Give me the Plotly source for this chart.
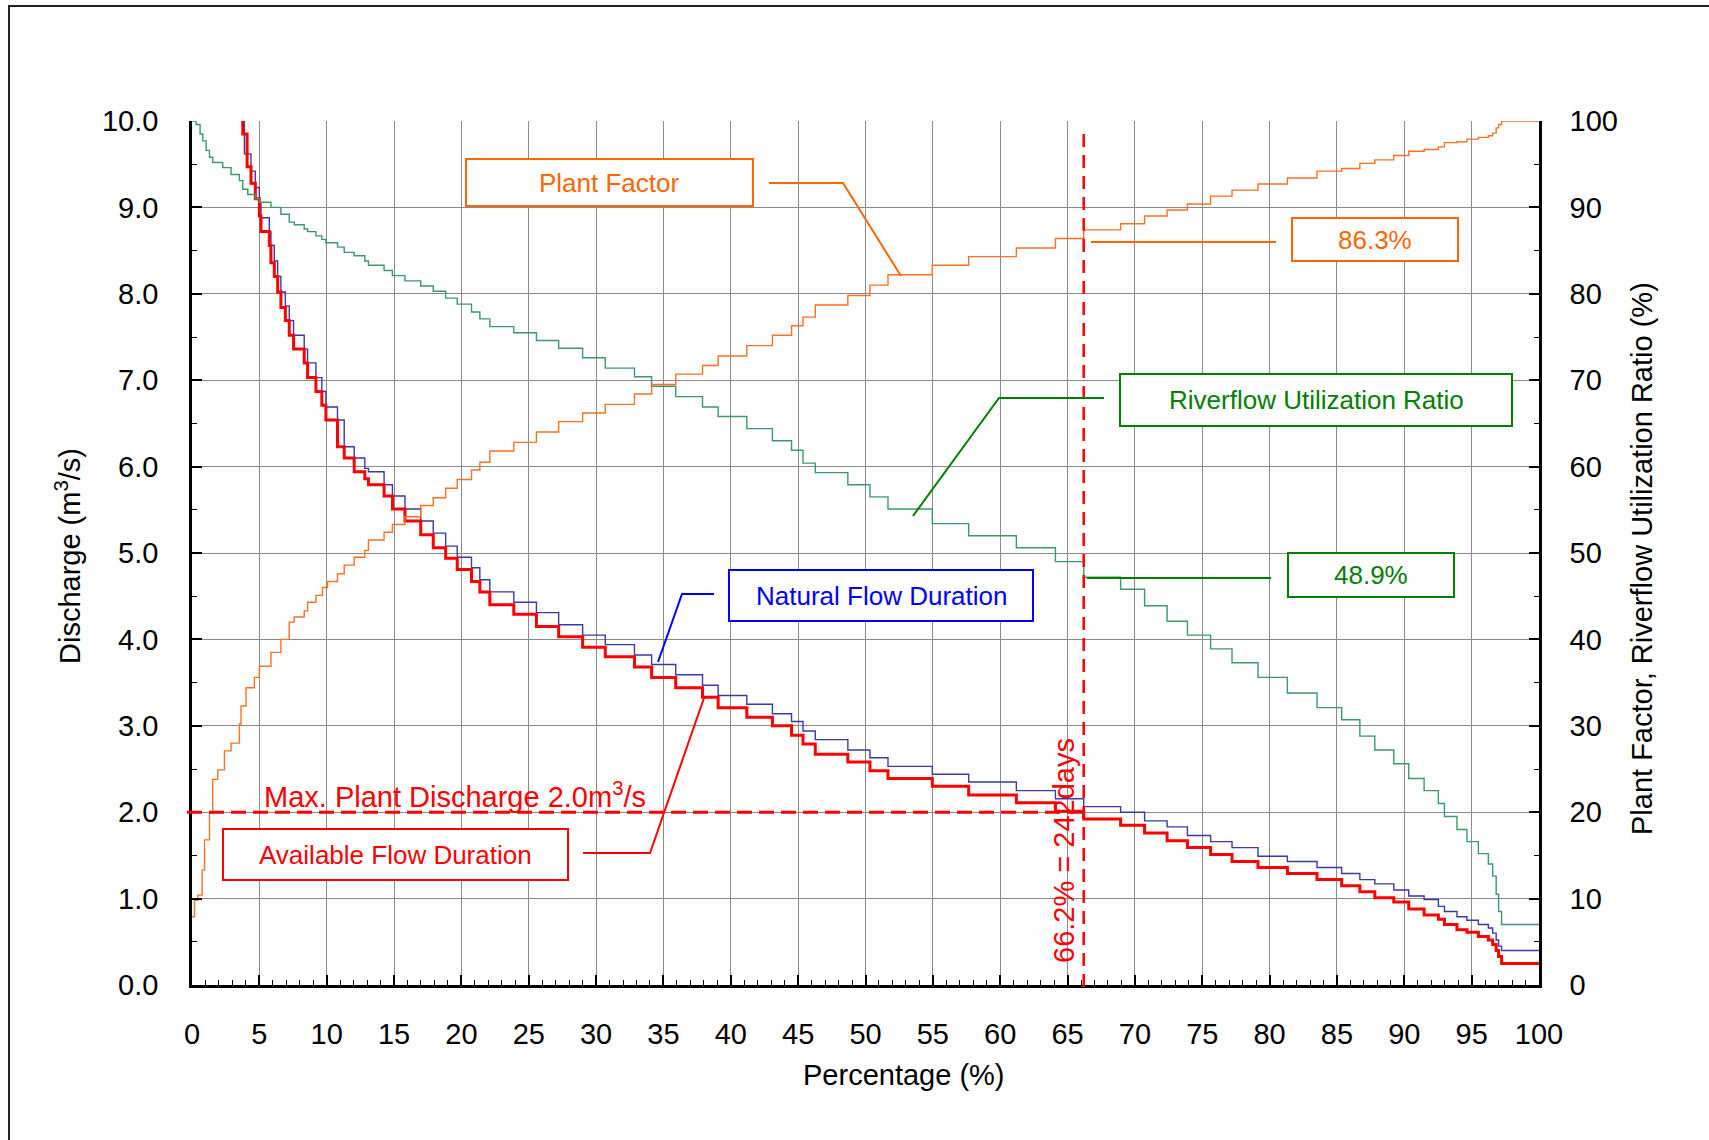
import plotly.graph_objects as go

# ---------------- data ----------------
# Available flow duration (red), discharge m3/s; step starts in % of time
avail_pct = [3.0, 3.77, 4.09, 4.38, 4.70,
             5.00, 5.12, 5.74, 5.86, 6.11,
             6.36, 6.60, 6.93, 7.22, 7.54,
             8.33, 8.58, 9.20, 9.64, 9.94,
             10.80, 11.30, 12.04, 12.83, 13.10,
             14.26, 14.88, 15.81, 16.98, 17.91,
             18.83, 19.69, 20.75, 21.37, 22.11,
             23.89, 25.57, 27.22, 29.00, 30.68,
             32.85, 34.12, 35.91, 37.90, 39.06,
             41.19, 43.09, 44.51, 45.36, 46.27,
             48.69, 50.33, 51.67, 54.96, 57.66,
             61.20, 64.10, 66.20, 68.94, 70.72,
             72.39, 73.90, 75.62, 77.21, 79.14,
             81.32, 83.52, 85.35, 86.70, 87.81,
             89.22, 90.33, 91.47, 92.53, 92.98,
             93.91, 94.65, 95.50, 96.24, 96.56,
             96.82, 97.00, 97.22, 100.0]
avail_q = [12.0, 9.85, 9.47, 9.28, 9.10,
           8.90, 8.72, 8.56, 8.36, 8.20,
           8.02, 7.84, 7.69, 7.52, 7.36,
           7.20, 7.03, 6.87, 6.71, 6.54,
           6.23, 6.10, 5.94, 5.86, 5.79,
           5.66, 5.51, 5.37, 5.21, 5.06,
           4.94, 4.81, 4.67, 4.55, 4.40,
           4.29, 4.15, 4.03, 3.91, 3.80,
           3.68, 3.56, 3.44, 3.33, 3.21,
           3.10, 3.00, 2.89, 2.79, 2.67,
           2.58, 2.48, 2.39, 2.30, 2.20,
           2.11, 2.01, 1.92, 1.85, 1.76,
           1.67, 1.59, 1.51, 1.43, 1.36,
           1.29, 1.22, 1.15, 1.08, 1.01,
           0.96, 0.88, 0.81, 0.76, 0.70,
           0.64, 0.61, 0.56, 0.52, 0.47,
           0.40, 0.33, 0.25, 0.25]

# Natural flow duration (blue)
natural_pct = [3.0, 3.89, 4.38, 4.70, 5.00,
               5.12, 5.74, 5.86, 6.11, 6.36,
               6.60, 6.93, 7.22, 7.54, 8.33,
               8.58, 9.20, 9.64, 9.94, 10.80,
               11.30, 12.04, 12.83, 13.10, 14.26,
               14.88, 15.81, 16.98, 17.91, 18.83,
               19.69, 20.75, 21.37, 22.11, 23.89,
               25.57, 27.22, 29.00, 30.68, 32.85,
               34.12, 35.91, 37.90, 39.06, 41.19,
               43.09, 44.51, 45.36, 46.27, 48.69,
               50.33, 51.67, 54.96, 57.66, 61.20,
               64.10, 66.20, 68.94, 70.72, 72.39,
               73.90, 75.62, 77.21, 79.14, 81.32,
               83.52, 85.35, 86.70, 87.81, 89.22,
               90.33, 91.47, 92.53, 92.98, 93.91,
               94.65, 95.50, 96.24, 96.56, 96.82,
               97.00, 97.22, 100.0]
natural_q = [12.0, 9.62, 9.42, 9.23, 9.05,
             8.88, 8.72, 8.56, 8.38, 8.20,
             8.02, 7.86, 7.69, 7.52, 7.36,
             7.20, 7.03, 6.87, 6.69, 6.54,
             6.23, 6.10, 5.98, 5.94, 5.79,
             5.66, 5.51, 5.37, 5.23, 5.08,
             4.95, 4.83, 4.69, 4.55, 4.43,
             4.31, 4.17, 4.05, 3.94, 3.82,
             3.71, 3.59, 3.47, 3.35, 3.25,
             3.14, 3.05, 2.94, 2.84, 2.72,
             2.63, 2.53, 2.44, 2.35, 2.25,
             2.155, 2.065, 2.00, 1.90, 1.83,
             1.73, 1.66, 1.59, 1.49, 1.43,
             1.36, 1.29, 1.22, 1.17, 1.10,
             1.03, 0.99, 0.91, 0.85, 0.79,
             0.75, 0.70, 0.66, 0.60, 0.52,
             0.45, 0.40, 0.40]

# Plant factor (orange), %
pf_pct = [0.0, 0.19, 0.43, 0.75, 0.93,
          1.30, 1.54, 1.91, 2.41, 2.90,
          3.52, 3.64, 4.01, 4.63, 5.00,
          5.86, 6.60, 7.22, 7.59, 8.33,
          8.58, 9.20, 9.69, 10.06, 10.80,
          11.30, 12.04, 12.83, 13.10, 14.26,
          14.88, 15.81, 16.98, 17.91, 18.83,
          19.69, 20.75, 21.37, 22.11, 23.89,
          25.57, 27.22, 29.00, 30.68, 32.85,
          34.12, 35.91, 37.90, 39.06, 41.19,
          43.09, 44.51, 45.36, 46.27, 48.69,
          50.33, 51.67, 54.96, 57.66, 61.20,
          64.10, 66.20, 68.94, 70.72, 72.39,
          73.90, 75.62, 77.21, 79.14, 81.32,
          83.52, 85.35, 86.70, 87.81, 89.22,
          90.33, 91.47, 92.53, 92.98, 93.91,
          94.65, 95.50, 96.24, 96.56, 96.82,
          97.00, 97.22, 100.0]
plant_factor = [7.9, 9.8, 10.4, 13.3, 16.8,
                19.9, 23.8, 24.9, 27.1, 28.0,
                30.2, 32.3, 34.4, 35.6, 36.9,
                38.5, 40.0, 42.0, 42.6, 43.3,
                44.3, 45.1, 46.0, 46.7, 47.6,
                48.6, 49.5, 50.3, 51.5, 52.4,
                53.3, 54.2, 55.5, 56.4, 57.5,
                58.5, 59.6, 60.5, 61.8, 62.8,
                64.0, 65.2, 66.2, 67.2, 68.4,
                69.5, 70.7, 71.7, 72.8, 74.0,
                75.2, 76.3, 77.3, 78.7, 79.8,
                81.0, 82.2, 83.3, 84.3, 85.3,
                86.4, 87.4, 88.1, 89.0, 89.7,
                90.4, 91.3, 92.0, 92.7, 93.4,
                94.2, 94.5, 95.1, 95.5, 96.0,
                96.5, 96.7, 97.0, 97.5, 97.6,
                97.9, 98.1, 98.3, 98.6, 99.2,
                99.6, 100.0, 100.0]

# Riverflow utilization ratio (green), %
rur_pct = [0.0, 0.30, 0.60, 0.80, 1.05,
           1.30, 1.54, 2.28, 2.90, 3.52,
           3.77, 4.14, 4.70, 5.00, 5.86,
           6.60, 7.22, 7.60, 8.33, 8.58,
           9.20, 9.64, 9.94, 10.80, 11.30,
           12.04, 12.83, 13.10, 14.26, 14.88,
           15.81, 16.98, 17.91, 18.83, 19.69,
           20.75, 21.37, 22.11, 23.89, 25.57,
           27.22, 29.00, 30.68, 32.85, 34.12,
           35.91, 37.90, 39.06, 41.19, 43.09,
           44.51, 45.36, 46.27, 48.69, 50.33,
           51.67, 54.96, 57.66, 61.20, 64.10,
           66.20, 68.94, 70.72, 72.39, 73.90,
           75.62, 77.21, 79.14, 81.32, 83.52,
           85.35, 86.70, 87.81, 89.22, 90.33,
           91.47, 92.53, 92.98, 93.91, 94.65,
           95.50, 96.24, 96.56, 96.82, 97.00,
           97.22, 100.0]
rur = [100.0, 99.6, 98.5, 97.7, 96.6,
       95.8, 95.2, 94.6, 93.8, 93.1,
       92.1, 91.5, 91.0, 90.6, 90.0,
       89.2, 88.3, 88.0, 87.5, 87.2,
       86.7, 86.3, 85.9, 85.4, 84.8,
       84.4, 83.8, 83.3, 82.7, 82.1,
       81.5, 80.9, 80.3, 79.5, 78.8,
       77.9, 77.1, 76.2, 75.5, 74.6,
       73.7, 72.6, 71.4, 70.4, 69.3,
       68.1, 66.9, 65.8, 64.4, 63.0,
       61.9, 60.4, 59.3, 57.9, 56.5,
       55.1, 53.4, 52.0, 50.6, 49.0,
       47.2, 45.8, 43.9, 42.1, 40.5,
       38.9, 37.3, 35.6, 33.8, 32.1,
       30.7, 28.8, 27.2, 25.6, 23.9,
       22.5, 21.0, 19.5, 18.0, 16.6,
       15.2, 14.0, 12.6, 10.5, 8.5,
       7.0, 7.0]

max_plant_discharge = 2.0
design_pct = 66.2
design_days = 242
pf_at_design = 86.3
rur_at_design = 48.9

x_ticks = list(range(0, 101, 5))

# ---------------- figure ----------------
FONT = "Liberation Sans, Arial, sans-serif"
W, H = 1709, 1140
L, R, T, B = 192, 170, 121, 155
PW, PH = W - L - R, H - T - B

def px2x(px):  # pixel -> x data (%)
    return (px - L) / PW * 100.0

def py2y(py):  # pixel -> left y data
    return (H - B - py) / PH * 10.0

def px2p(px):
    return (px - L) / PW

def py2p(py):
    return (H - B - py) / PH

fig = go.Figure()
fig.add_trace(go.Scatter(x=rur_pct, y=rur, yaxis="y2", mode="lines",
                         line=dict(color="#3A9A68", width=1.4, shape="hv"),
                         name="Riverflow Utilization Ratio"))
fig.add_trace(go.Scatter(x=pf_pct, y=plant_factor, yaxis="y2", mode="lines",
                         line=dict(color="#FF7020", width=1.4, shape="hv"),
                         name="Plant Factor"))
fig.add_trace(go.Scatter(x=natural_pct, y=natural_q, mode="lines",
                         line=dict(color="#3A3AA8", width=1.4, shape="hv"),
                         name="Natural Flow Duration"))
fig.add_trace(go.Scatter(x=avail_pct, y=avail_q, mode="lines",
                         line=dict(color="#FF0000", width=3, shape="hv"),
                         name="Available Flow Duration"))

shapes = []
annotations = []

# outer frame
shapes.append(dict(type="rect", xref="paper", yref="paper",
                   x0=px2p(9), x1=px2p(1760), y0=py2p(1200), y1=py2p(6),
                   line=dict(color="#222222", width=2), fillcolor="rgba(0,0,0,0)",
                   layer="below"))

# dashed reference lines
shapes.append(dict(type="line", xref="paper", yref="y",
                   x0=px2p(187), x1=design_pct / 100.0,
                   y0=max_plant_discharge, y1=max_plant_discharge,
                   line=dict(color="#FF0000", width=3, dash="15px,7px"), layer="above"))
shapes.append(dict(type="line", xref="x", yref="paper",
                   x0=design_pct, x1=design_pct, y0=py2p(987), y1=py2p(127),
                   line=dict(color="#FF0000", width=2.5, dash="13px,8px"), layer="above"))


def box(x0, y0, x1, y1, color, text, size=26):
    shapes.append(dict(type="rect", xref="x", yref="y",
                       x0=px2x(x0), x1=px2x(x1), y0=py2y(y1), y1=py2y(y0),
                       line=dict(color=color, width=2), fillcolor="white", layer="above"))
    annotations.append(dict(xref="x", yref="y", x=px2x((x0 + x1) / 2), y=py2y((y0 + y1) / 2),
                            text=text, showarrow=False, xanchor="center", yanchor="middle",
                            font=dict(family=FONT, size=size, color=color)))


def leader(points, color, width=2):
    path = "M " + " L ".join(f"{px2x(a):.4f},{py2y(b):.4f}" for a, b in points)
    shapes.append(dict(type="path", xref="x", yref="y", path=path,
                       line=dict(color=color, width=width), layer="above"))


ORANGE = "#FF6600"
GREEN = "#008000"
BLUE = "#0000FF"
RED = "#FF0000"

box(466, 159, 753, 206, ORANGE, "Plant Factor")
leader([(769, 183), (843, 183), (901, 276)], ORANGE)

box(1292, 218, 1458, 261, ORANGE, f"{pf_at_design}%")
leader([(1091, 242), (1276, 242)], ORANGE)

box(1120, 374, 1512, 426, GREEN, "Riverflow Utilization Ratio")
leader([(1104, 398), (999, 398), (913, 516)], GREEN)

box(1288, 553, 1454, 597, GREEN, f"{rur_at_design}%")
leader([(1087, 578), (1271, 578)], GREEN)

box(729, 570, 1033, 621, BLUE, "Natural Flow Duration")
leader([(714, 594), (682, 594), (658, 662)], BLUE)

box(223, 829, 568, 880, RED, "Available Flow Duration")
leader([(583, 853), (650, 853), (704, 698)], RED)

# red texts
annotations.append(dict(xref="x", yref="y", x=px2x(455), y=py2y(795),
                        text=f"Max. Plant Discharge {max_plant_discharge:.1f}m<sup>3</sup>/s",
                        showarrow=False, xanchor="center", yanchor="middle",
                        font=dict(family=FONT, size=29, color=RED)))
annotations.append(dict(xref="x", yref="y", x=px2x(1064), y=py2y(851),
                        text=f"{design_pct}% = {design_days}days", textangle=-90,
                        showarrow=False, xanchor="center", yanchor="middle",
                        font=dict(family=FONT, size=29, color=RED)))

# axis titles
annotations.append(dict(xref="paper", yref="paper", x=px2p(904), y=py2p(1075),
                        text="Percentage (%)", showarrow=False,
                        xanchor="center", yanchor="middle",
                        font=dict(family=FONT, size=29, color="black")))
annotations.append(dict(xref="paper", yref="paper", x=px2p(68), y=py2p(556),
                        text="Discharge (m<sup>3</sup>/s)", showarrow=False, textangle=-90,
                        xanchor="center", yanchor="middle",
                        font=dict(family=FONT, size=29, color="black")))
annotations.append(dict(xref="paper", yref="paper", x=px2p(1642), y=py2p(558),
                        text="Plant Factor, Riverflow Utilization Ratio (%)", showarrow=False,
                        textangle=-90, xanchor="center", yanchor="middle",
                        font=dict(family=FONT, size=29, color="black")))

GRID = "#8a8a8a"
tickfont = dict(family=FONT, size=29, color="black")

fig.update_layout(
    width=W, height=H,
    margin=dict(l=L, r=R, t=T, b=B, pad=0),
    paper_bgcolor="white", plot_bgcolor="white",
    showlegend=False,
    font=dict(family=FONT),
    shapes=shapes, annotations=annotations,
    xaxis=dict(range=[0, 100], tickvals=x_ticks, ticktext=[str(v) for v in x_ticks],
               showgrid=True, gridcolor=GRID, gridwidth=1.2,
               ticks="inside", ticklen=10, tickwidth=1.5, tickcolor="black",
               showline=True, linecolor="black", linewidth=2.5,
               zeroline=False, tickfont=tickfont, ticklabelstandoff=21,
               minor=dict(dtick=1, tick0=0, ticks="inside", ticklen=5,
                          tickwidth=1.2, tickcolor="black", showgrid=False)),
    yaxis=dict(range=[0, 10], dtick=1, tick0=0, tickformat=".1f",
               showgrid=True, gridcolor=GRID, gridwidth=1.2,
               ticks="inside", ticklen=10, tickwidth=1.5, tickcolor="black",
               showline=True, linecolor="black", linewidth=2.5,
               zeroline=False, tickfont=tickfont, ticklabelstandoff=25,
               minor=dict(dtick=0.5, tick0=0, ticks="inside", ticklen=5,
                          tickwidth=1.2, tickcolor="black", showgrid=False)),
    yaxis2=dict(range=[0, 100], dtick=10, tick0=0, overlaying="y", side="right",
                showgrid=False, ticks="inside", ticklen=10, tickwidth=1.5,
                tickcolor="black", showline=True, linecolor="black", linewidth=2.5,
                zeroline=False, tickfont=tickfont, ticklabelstandoff=22,
                minor=dict(dtick=5, tick0=0, ticks="inside", ticklen=5,
                           tickwidth=1.2, tickcolor="black", showgrid=False)),
)

fig.write_html("out.html")
